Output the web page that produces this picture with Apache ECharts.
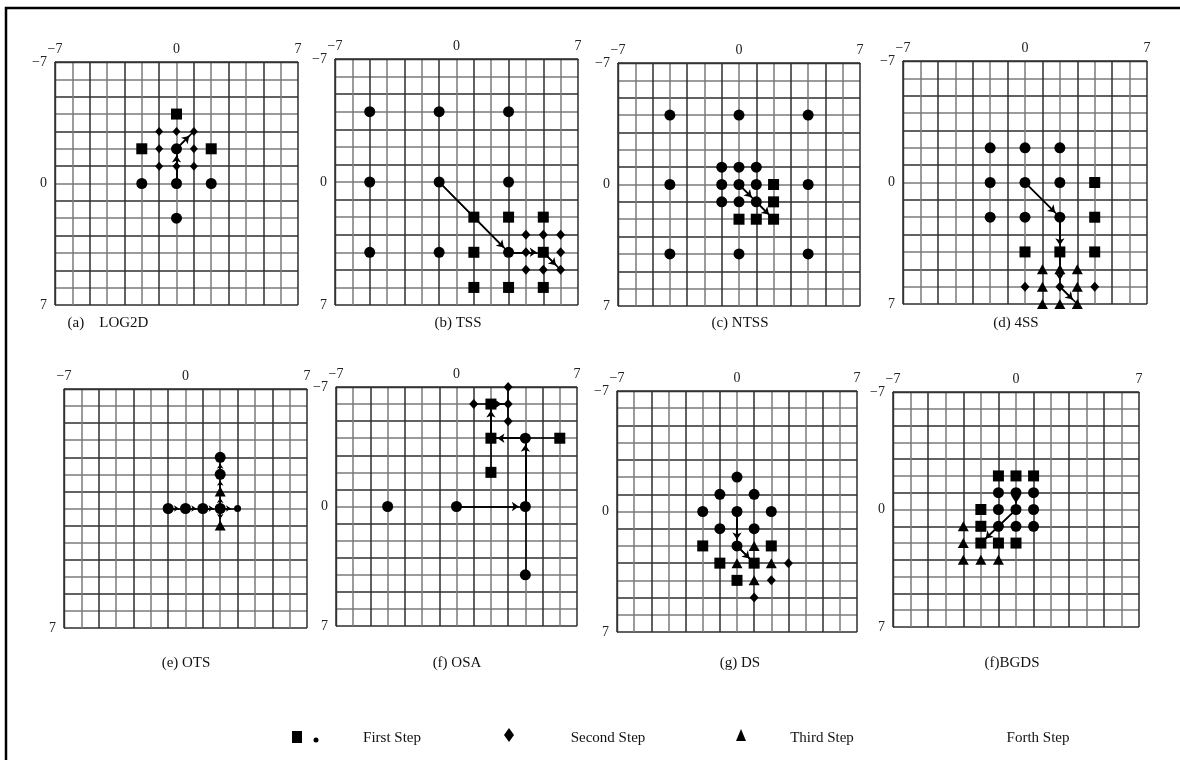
<!DOCTYPE html>
<html><head><meta charset="utf-8">
<script src="https://cdn.jsdelivr.net/npm/echarts@6/dist/echarts.min.js"></script>
<style>html,body{margin:0;padding:0;background:#fff}#c{width:1180px;height:760px}</style>
</head><body><div id="c"></div>
<script>
// ---------- data ----------
const captions = ['(a)    LOG2D','(b) TSS','(c) NTSS','(d) 4SS','(e) OTS','(f) OSA','(g) DS','(f)BGDS'];
const axisMin = -7, axisMax = 7;
const xTickLabels = [-7, 0, 7];
const yTickLabelsFull = [-7, 0, 7];
const yTickLabelsOTS = [7];
const legendNames = ['First Step','Second Step','Third Step','Forth Step'];

// (a) LOG2D
const logSquares = [[0,-4],[-2,-2],[2,-2]];
const logCircles = [[0,-2],[-2,0],[0,0],[2,0],[0,2]];
const logDiamonds = [[-1,-3],[0,-3],[1,-3],[-1,-2],[1,-2],[-1,-1],[0,-1],[1,-1]];
const logArrows = [[[0,0],[0,-2]],[[0,-2],[1,-3]]];
// (b) TSS
const tssCircles = [[-5,-4],[-1,-4],[3,-4],[-5,0],[-1,0],[3,0],[-5,4],[-1,4],[3,4]];
const tssSquares = [[1,2],[3,2],[5,2],[1,4],[5,4],[1,6],[3,6],[5,6]];
const tssDiamonds = [[4,3],[5,3],[6,3],[4,4],[6,4],[4,5],[5,5],[6,5]];
const tssArrows = [[[-1,0],[3,4]],[[3,4],[5,4]],[[5,4],[6,5]]];
// (c) NTSS
const ntssCircles = [[-4,-4],[0,-4],[4,-4],[-4,0],[4,0],[-4,4],[0,4],[4,4],
  [-1,-1],[0,-1],[1,-1],[-1,0],[0,0],[1,0],[-1,1],[0,1],[1,1]];
const ntssSquares = [[2,0],[2,1],[0,2],[1,2],[2,2]];
const ntssArrows = [[[0,0],[1,1]],[[1,1],[2,2]]];
// (d) 4SS
const fssCircles = [[-2,-2],[0,-2],[2,-2],[-2,0],[0,0],[2,0],[-2,2],[0,2],[2,2]];
const fssSquares = [[4,0],[4,2],[0,4],[2,4],[4,4]];
const fssTriangles = [[1,5],[2,5],[3,5],[1,6],[3,6],[1,7],[2,7],[3,7]];
const fssDiamonds = [[0,6],[2,6],[4,6]];
const fssArrows = [[[0,0],[2,2]],[[2,2],[2,4]],[[2,4],[2,6]],[[2,6],[3,7]]];
// (e) OTS
const otsCircles = [[-1,0],[0,0],[1,0],[2,0],[2,-2],[2,-3]];
const otsDots = [[3,0]];
const otsTriangles = [[2,-1],[2,1]];
const otsArrows = [[[-1,0],[0,0]],[[0,0],[1,0]],[[1,0],[2,0]],[[2,0],[3,0]],
  [[2,0],[2,-1]],[[2,-1],[2,-2]],[[2,-2],[2,-3]],[[2,0],[2,1]]];
// (f) OSA
const osaCircles = [[-4,0],[0,0],[4,0],[4,4],[4,-4]];
const osaSquares = [[2,-6],[2,-4],[6,-4],[2,-2]];
const osaDiamonds = [[1,-6],[3,-6],[3,-7],[3,-5]];
const osaArrows = [[[0,0],[4,0]],[[4,0],[4,-4]],[[4,-4],[2,-4]],[[2,-4],[2,-6]],[[2,-6],[3,-6]]];
const osaLines = [[[4,-4],[4,4]],[[2,-4],[6,-4]],[[2,-6],[2,-2]],[[1,-6],[3,-6]],[[3,-7],[3,-5]]];
// (g) DS
const dsCircles = [[0,-2],[-1,-1],[1,-1],[-2,0],[0,0],[2,0],[-1,1],[1,1],[0,2]];
const dsSquares = [[-2,2],[2,2],[-1,3],[1,3],[0,4]];
const dsTriangles = [[1,2],[0,3],[2,3],[1,4]];
const dsDiamonds = [[3,3],[2,4],[1,5]];
const dsArrows = [[[0,0],[0,2]],[[0,2],[1,3]]];
// (h) BGDS
const bgSquares = [[-1,-2],[0,-2],[1,-2],[-2,0],[-2,1],[-2,2],[-1,2],[0,2]];
const bgCircles = [[-1,-1],[0,-1],[1,-1],[-1,0],[0,0],[1,0],[-1,1],[0,1],[1,1]];
const bgTriangles = [[-3,1],[-3,2],[-3,3],[-2,3],[-1,3]];
const bgArrows = [[[0,-1],[0,0]],[[0,0],[-2,2]]];

// ---------- layout (pixels) ----------
const gridBoxes = [
  [55,62,243,243],[335,59,243,246],[618,63,242,243],[903,61,244,243],
  [64,389,243,239],[336,387,241,239],[617,391,240,241],[893,392,246,235]
];
const captionPos = [[108,323],[458,323],[740,323],[1016,323],[186,663],[457,663],[740,663],[1012,663]];

const panels = [
  {circles:logCircles, squares:logSquares, diamonds:logDiamonds, triangles:[], dots:[], arrows:logArrows, lines:[], dSize:8, yl:yTickLabelsFull},
  {circles:tssCircles, squares:tssSquares, diamonds:tssDiamonds, triangles:[], dots:[], arrows:tssArrows, lines:[], dSize:9, yl:yTickLabelsFull},
  {circles:ntssCircles, squares:ntssSquares, diamonds:[], triangles:[], dots:[], arrows:ntssArrows, lines:[], dSize:9, yl:yTickLabelsFull},
  {circles:fssCircles, squares:fssSquares, diamonds:fssDiamonds, triangles:fssTriangles, dots:[], arrows:fssArrows, lines:[], dSize:9, yl:yTickLabelsFull},
  {circles:otsCircles, squares:[], diamonds:[], triangles:otsTriangles, dots:otsDots, arrows:otsArrows, lines:[], dSize:9, yl:yTickLabelsOTS},
  {circles:osaCircles, squares:osaSquares, diamonds:osaDiamonds, triangles:[], dots:[], arrows:osaArrows, lines:osaLines, dSize:9, yl:yTickLabelsFull},
  {circles:dsCircles, squares:dsSquares, diamonds:dsDiamonds, triangles:dsTriangles, dots:[], arrows:dsArrows, lines:[], dSize:9, yl:yTickLabelsFull},
  {circles:bgCircles, squares:bgSquares, diamonds:[], triangles:bgTriangles, dots:[], arrows:bgArrows, lines:[], dSize:9, yl:yTickLabelsFull}
];

const FONT = "'Liberation Serif', 'DejaVu Serif', serif";
const gridColors = ['#2e2e2e','#7a7a7a'];
const fmt = v => (v < 0 ? '\u2212' + (-v) : String(v));

function shorten(seg, d) {
  const a = seg[0], b = seg[1];
  const dx = b[0]-a[0], dy = b[1]-a[1];
  const L = Math.hypot(dx, dy);
  const t = Math.max(0, (L - d) / L);
  return [a, [a[0]+dx*t, a[1]+dy*t]];
}

const grid = [], xAxis = [], yAxis = [], series = [], graphic = [];
panels.forEach((p, i) => {
  const g = gridBoxes[i];
  grid.push({left:g[0], top:g[1], width:g[2], height:g[3], containLabel:false});
  xAxis.push({
    gridIndex:i, type:'value', min:axisMin, max:axisMax, interval:1, position:'top',
    axisLine:{show:true, onZero:false, lineStyle:{color:'#333', width:1.4}},
    axisTick:{show:false},
    axisLabel:{show:true, margin:6, fontFamily:FONT, fontSize:14, color:'#222',
      showMinLabel:true, showMaxLabel:true,
      formatter: v => xTickLabels.includes(v) ? fmt(v) : ''},
    splitLine:{show:true, lineStyle:{color:gridColors, width:1.5}}
  });
  yAxis.push({
    gridIndex:i, type:'value', min:axisMin, max:axisMax, interval:1, inverse:true, position:'left',
    axisLine:{show:true, onZero:false, lineStyle:{color:'#333', width:1.4}},
    axisTick:{show:false},
    axisLabel:{show:true, margin:8, fontFamily:FONT, fontSize:14, color:'#222',
      showMinLabel:true, showMaxLabel:true,
      formatter: v => p.yl.includes(v) ? fmt(v) : ''},
    splitLine:{show:true, lineStyle:{color:gridColors, width:1.5}}
  });
  const base = {type:'scatter', xAxisIndex:i, yAxisIndex:i, clip:false, silent:true,
    itemStyle:{color:'#000', opacity:1}, z:5};
  if (p.circles.length) series.push(Object.assign({}, base, {data:p.circles, symbol:'circle', symbolSize:11}));
  if (p.squares.length) series.push(Object.assign({}, base, {data:p.squares, symbol:'rect', symbolSize:11}));
  if (p.diamonds.length) series.push(Object.assign({}, base, {data:p.diamonds, symbol:'diamond', symbolSize:[p.dSize, p.dSize+1]}));
  if (p.triangles.length) series.push(Object.assign({}, base, {data:p.triangles, symbol:'triangle', symbolSize:[11,10]}));
  if (p.dots.length) series.push(Object.assign({}, base, {data:p.dots, symbol:'circle', symbolSize:7}));
  const allLines = p.arrows.concat(p.lines);
  series.push({type:'lines', coordinateSystem:'cartesian2d', xAxisIndex:i, yAxisIndex:i, silent:true, z:3,
    symbol:['none','none'], lineStyle:{color:'#000', width:1.6, opacity:1},
    data: allLines.map(s => ({coords:s}))});
  series.push({type:'lines', coordinateSystem:'cartesian2d', xAxisIndex:i, yAxisIndex:i, silent:true, z:4,
    symbol:['none','arrow'], symbolSize: i === 4 ? 5 : 7, lineStyle:{color:'#000', width:1.6, opacity:1},
    data: p.arrows.map(s => ({coords:shorten(s, 0.38)}))});
  graphic.push({type:'text', x:captionPos[i][0], y:captionPos[i][1],
    style:{text:captions[i], font:'15px ' + FONT, fill:'#111', textAlign:'center', textVerticalAlign:'middle'}});
});

// frame
graphic.push({type:'rect', shape:{x:6, y:8, width:1200, height:800},
  style:{fill:'none', stroke:'#000', lineWidth:2.5}, z:-1});
// legend
graphic.push({type:'rect', shape:{x:292, y:731, width:10, height:12}, style:{fill:'#000'}});
graphic.push({type:'circle', shape:{cx:316, cy:740, r:2.5}, style:{fill:'#000'}});
graphic.push({type:'text', x:392, y:738, style:{text:legendNames[0], font:'15px ' + FONT, fill:'#111', textAlign:'center', textVerticalAlign:'middle'}});
graphic.push({type:'polygon', shape:{points:[[509,728],[514,735],[509,742],[504,735]]}, style:{fill:'#000'}});
graphic.push({type:'text', x:608, y:738, style:{text:legendNames[1], font:'15px ' + FONT, fill:'#111', textAlign:'center', textVerticalAlign:'middle'}});
graphic.push({type:'polygon', shape:{points:[[741,729],[746,741],[736,741]]}, style:{fill:'#000'}});
graphic.push({type:'text', x:822, y:738, style:{text:legendNames[2], font:'15px ' + FONT, fill:'#111', textAlign:'center', textVerticalAlign:'middle'}});
graphic.push({type:'text', x:1038, y:738, style:{text:legendNames[3], font:'15px ' + FONT, fill:'#111', textAlign:'center', textVerticalAlign:'middle'}});

const chart = echarts.init(document.getElementById('c'), null, {renderer:'canvas'});
chart.setOption({animation:false, backgroundColor:'#fff', grid, xAxis, yAxis, series, graphic});
</script>
</body></html>
